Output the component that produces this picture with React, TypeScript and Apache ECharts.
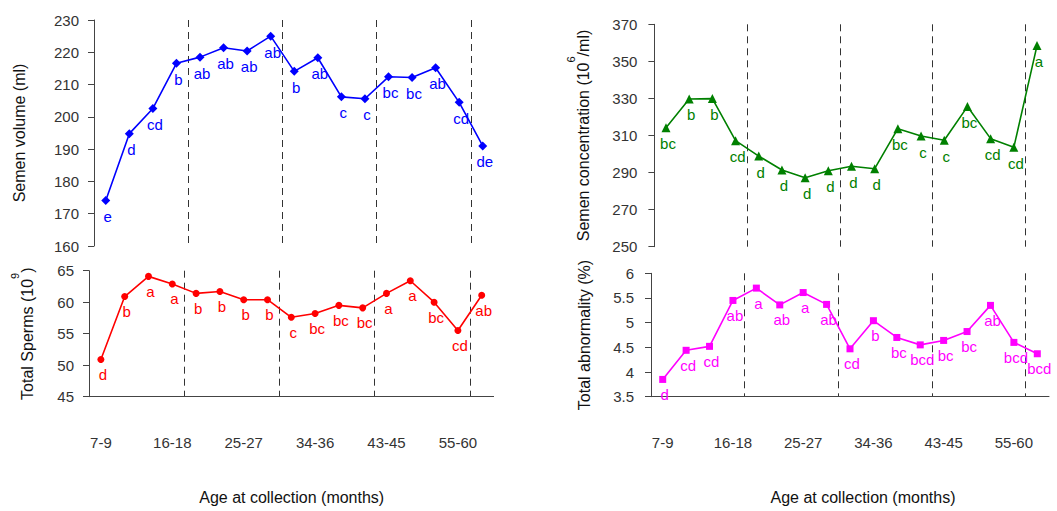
import React, { useEffect, useRef } from "react";
import * as echarts from "echarts";

const categories = [
  "7-9", "10-12", "13-15", "16-18", "19-21", "22-24", "25-27", "28-30", "31-33",
  "34-36", "37-39", "40-42", "43-45", "46-48", "49-54", "55-60", ">60",
];

const volume = [174.1, 194.8, 202.6, 216.6, 218.5, 221.4, 220.4, 225.0, 214.1, 218.3, 206.2, 205.6, 212.4, 212.2, 215.2, 204.5, 191.0];
const volumeLetters = ["e", "d", "cd", "b", "ab", "ab", "ab", "ab", "b", "ab", "c", "c", "bc", "bc", "ab", "cd", "de"];

const sperms = [50.9, 60.9, 64.1, 62.9, 61.4, 61.7, 60.4, 60.4, 57.6, 58.2, 59.5, 59.1, 61.4, 63.4, 60.0, 55.5, 61.1];
const spermsLetters = ["d", "b", "a", "a", "b", "b", "b", "b", "c", "bc", "bc", "bc", "a", "a", "bc", "cd", "ab"];

const concentration = [314.2, 329.7, 329.9, 307.2, 298.9, 291.4, 287.2, 291.0, 293.4, 292.1, 313.7, 309.7, 307.4, 325.6, 308.3, 303.6, 358.5];
const concentrationLetters = ["bc", "b", "b", "cd", "d", "d", "d", "d", "d", "d", "bc", "c", "c", "bc", "cd", "cd", "a"];

const abnormality = [3.85, 4.44, 4.52, 5.45, 5.70, 5.36, 5.61, 5.37, 4.47, 5.04, 4.70, 4.55, 4.64, 4.82, 5.35, 4.60, 4.37];
const abnormalityLetters = ["d", "cd", "cd", "ab", "a", "ab", "a", "ab", "cd", "b", "bc", "bcd", "bc", "bc", "ab", "bcd", "bcd"];

const concentrationTicks = [250, 270, 290, 310, 330, 350, 370];

const FONT = "'Liberation Sans', Arial, Helvetica, sans-serif";
const AXIS_COLOR = "#444";
const TEXT_COLOR = "#333";

type Panel = {
  grid: { left: number; top: number; width: number; height: number };
  values: number[];
  letters: string[];
  color: string;
  symbol: string;
  symbolSize: number;
  min: number;
  max: number;
  interval?: number;
  customTicks?: number[];
  name: string;
  nameGap: number;
  bottom: boolean;
  labelMargin: number;
};

const richName = {
  m: { fontSize: 16, fontFamily: FONT, color: "#111", lineHeight: 26, padding: [10, 0, 0, 0], verticalAlign: "bottom" },
  s: { fontSize: 11, fontFamily: FONT, color: "#111", lineHeight: 12, verticalAlign: "top" },
};

export default function App() {
  const ref = useRef<HTMLDivElement>(null);

  useEffect(() => {
    const chart = echarts.init(ref.current!, null, { renderer: "svg" });

    const panels: Panel[] = [
      {
        grid: { left: 92.5, top: 20, width: 402, height: 226 },
        values: volume, letters: volumeLetters, color: "#0000ff", symbol: "diamond", symbolSize: 9,
        min: 160, max: 230, interval: 10, name: "{m|Semen volume (ml)}", nameGap: 67, bottom: false, labelMargin: 15,
      },
      {
        grid: { left: 89, top: 270.7, width: 404.6, height: 126 },
        values: sperms, letters: spermsLetters, color: "#ff0000", symbol: "circle", symbolSize: 7,
        min: 45, max: 65, interval: 5, name: "{m|Total Sperms (10}{s|9}{m|)}", nameGap: 54, bottom: true, labelMargin: 15,
      },
      {
        grid: { left: 654.4, top: 24.3, width: 394.2, height: 222.4 },
        values: concentration, letters: concentrationLetters, color: "#008000", symbol: "triangle", symbolSize: 9,
        min: 250, max: 370, customTicks: concentrationTicks, name: "{m|Semen concentration (10}{s|6}{m|/ml)}", nameGap: 63, bottom: false, labelMargin: 17,
      },
      {
        grid: { left: 651, top: 273.3, width: 398, height: 123.4 },
        values: abnormality, letters: abnormalityLetters, color: "#ff00ff", symbol: "rect", symbolSize: 7,
        min: 3.5, max: 6, interval: 0.5, name: "{m|Total abnormality (%)}", nameGap: 59, bottom: true, labelMargin: 17,
      },
    ];

    const option: any = {
      animation: false,
      backgroundColor: "#ffffff",
      textStyle: { fontFamily: FONT },
      grid: panels.map((p) => ({ ...p.grid, containLabel: false })),
      xAxis: panels.map((p, i) => ({
        type: "category",
        gridIndex: i,
        data: categories,
        boundaryGap: true,
        axisLine: { show: p.bottom, lineStyle: { color: AXIS_COLOR, width: 1 } },
        axisTick: { show: false },
        axisLabel: {
          show: p.bottom,
          interval: 2,
          fontSize: 15,
          fontFamily: FONT,
          color: TEXT_COLOR,
          margin: 38,
        },
        splitLine: {
          show: true,
          interval: (idx: number) => idx > 0 && idx % 4 === 0,
          showMaxLine: false,
          lineStyle: { type: [7, 5], color: "#333", width: 1 },
        },
      })),
      yAxis: panels.map((p, i) => {
        const ax: any = {
          type: "value",
          gridIndex: i,
          min: p.min,
          max: p.max,
          name: p.name,
          nameLocation: "middle",
          nameRotate: 90,
          nameGap: p.nameGap,
          nameTextStyle: { fontSize: 16, fontFamily: FONT, color: "#111", rich: richName },
          axisLine: { show: true, lineStyle: { color: AXIS_COLOR, width: 1 } },
          axisTick: { show: true, length: 6, lineStyle: { color: AXIS_COLOR } },
          axisLabel: { fontSize: 15, fontFamily: FONT, color: TEXT_COLOR, margin: p.labelMargin },
          splitLine: { show: false },
        };
        if (p.interval !== undefined) ax.interval = p.interval;
        if (p.customTicks) {
          ax.axisLabel.customValues = p.customTicks;
          ax.axisTick.customValues = p.customTicks;
        }
        return ax;
      }),
      series: panels.map((p, i) => ({
        type: "line",
        xAxisIndex: i,
        yAxisIndex: i,
        data: p.values,
        symbol: p.symbol,
        symbolSize: p.symbolSize,
        showAllSymbol: true,
        lineStyle: { color: p.color, width: 1.6 },
        itemStyle: { color: p.color },
        label: {
          show: true,
          position: "bottom",
          distance: 4,
          offset: [2, 0],
          fontSize: 15,
          fontFamily: FONT,
          color: p.color,
          formatter: (params: any) => p.letters[params.dataIndex],
        },
        emphasis: { disabled: true },
      })),
      graphic: [
        {
          type: "text",
          x: 291.7,
          y: 497,
          style: { text: "Age at collection (months)", font: `16px ${FONT}`, fill: "#111", textAlign: "center", textVerticalAlign: "middle" },
        },
        {
          type: "text",
          x: 863,
          y: 497,
          style: { text: "Age at collection (months)", font: `16px ${FONT}`, fill: "#111", textAlign: "center", textVerticalAlign: "middle" },
        },
      ],
    };

    chart.setOption(option);
    return () => chart.dispose();
  }, []);

  return (
    <div
      ref={ref}
      style={{ position: "fixed", left: 0, top: 0, width: 1057, height: 511, background: "#fff" }}
    />
  );
}
